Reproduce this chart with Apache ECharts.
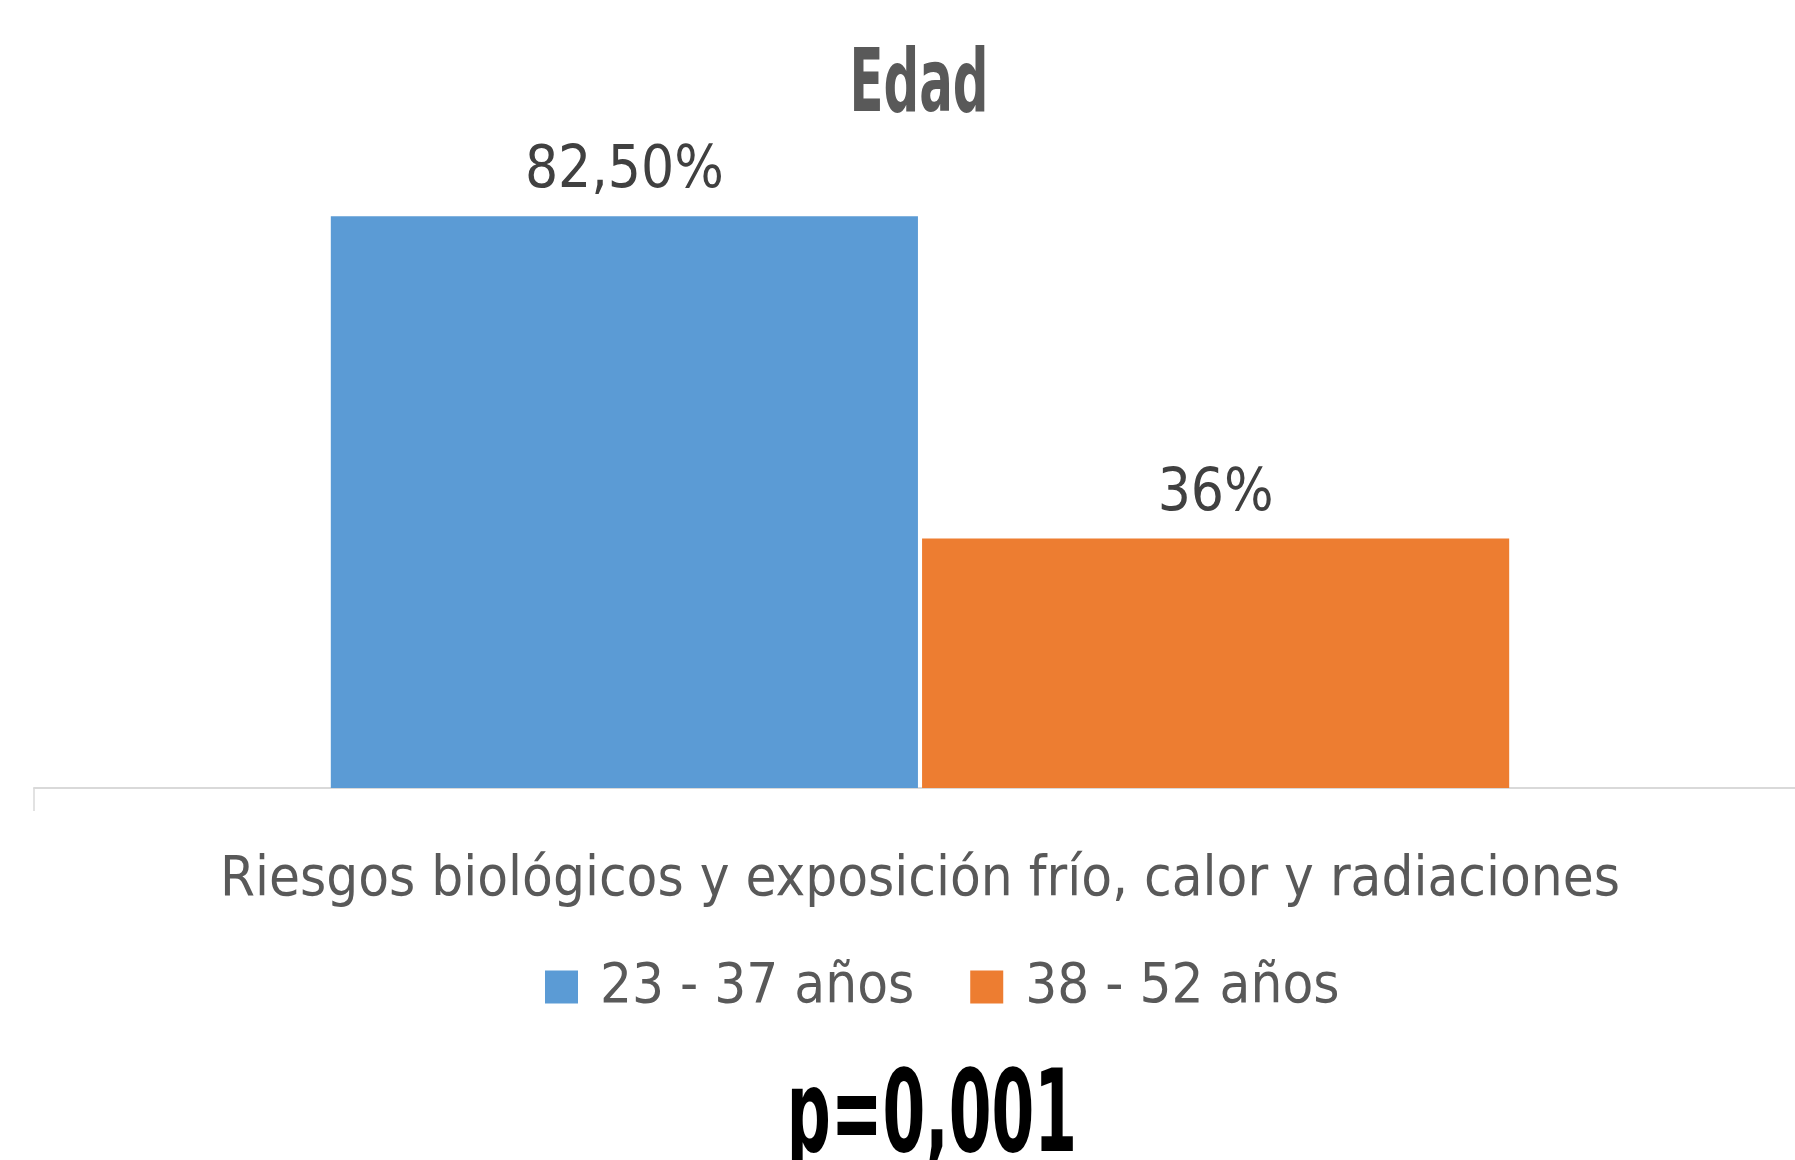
<!DOCTYPE html>
<html>
<head>
<meta charset="utf-8">
<title>Edad</title>
<script src="https://cdn.jsdelivr.net/npm/echarts@6/dist/echarts.min.js"></script>
<style>
  html, body { margin: 0; padding: 0; background: #fff; }
  #chart { width: 1795px; height: 1160px; }
</style>
</head>
<body>
<div id="chart"></div>
<script>
// data
const categories = ['Riesgos biológicos y exposición frío, calor y radiaciones'];
const seriesNames = ['23 - 37 años', '38 - 52 años'];
const youngValues = [82.5];
const olderValues = [36];
const valueLabels = ['82,50%', '36%'];
const titleText = 'Edad';
const pValue = 'p=0,001';

// narrow face stands in for the condensed font of the original
const FONT = "'Liberation Sans Narrow', 'DejaVu Sans Condensed', sans-serif";
const colors = ['#5b9bd5', '#ed7d31'];

const chart = echarts.init(document.getElementById('chart'));

function barSeries(name, values, idx) {
  return {
    name: name,
    type: 'bar',
    data: values,
    barGap: '0.7%',
    barCategoryGap: '33.5%',
    itemStyle: { color: colors[idx] },
    label: {
      show: true,
      position: 'top',
      distance: 15,
      fontFamily: FONT,
      fontSize: 58,
      color: '#404040',
      formatter: () => valueLabels[idx]
    }
  };
}

chart.setOption({
  animation: false,
  legend: {
    data: seriesNames,
    left: 540,
    top: 954,
    itemWidth: 33,
    itemHeight: 33,
    itemGap: 56,
    icon: 'rect',
    textStyle: { fontFamily: FONT, fontSize: 56, color: '#595959', padding: [0, 0, 0, 17] }
  },
  // plot area runs past the right edge, as in the cropped original
  grid: { left: 34, width: 1772, top: 95, bottom: 372, containLabel: false, outerBoundsMode: 'none' },
  xAxis: {
    type: 'category',
    data: categories,
    axisLine: { lineStyle: { color: '#d9d9d9', width: 2 } },
    axisTick: { show: true, length: 23, lineStyle: { color: '#d9d9d9', width: 1.5 } },
    axisLabel: { fontFamily: FONT, fontSize: 56, color: '#595959', margin: 64 }
  },
  yAxis: {
    type: 'value',
    min: 0,
    max: 100,
    show: false,
    splitLine: { show: false }
  },
  series: [
    barSeries(seriesNames[0], youngValues, 0),
    barSeries(seriesNames[1], olderValues, 1)
  ],
  graphic: [{
    // chart title, squeezed sideways like the condensed original
    type: 'text',
    x: 919,
    y: 44,
    scaleX: 0.63,
    style: {
      text: titleText,
      align: 'center',
      verticalAlign: 'top',
      fontFamily: FONT,
      fontSize: 88,
      fontWeight: 'bold',
      fill: '#595959'
    }
  }, {
    type: 'text',
    x: 932,
    y: 1064,
    scaleX: 0.6,
    style: {
      text: pValue,
      align: 'center',
      verticalAlign: 'top',
      fontFamily: FONT,
      fontSize: 114,
      fontWeight: 'bold',
      fill: '#000'
    }
  }]
});
</script>
</body>
</html>
